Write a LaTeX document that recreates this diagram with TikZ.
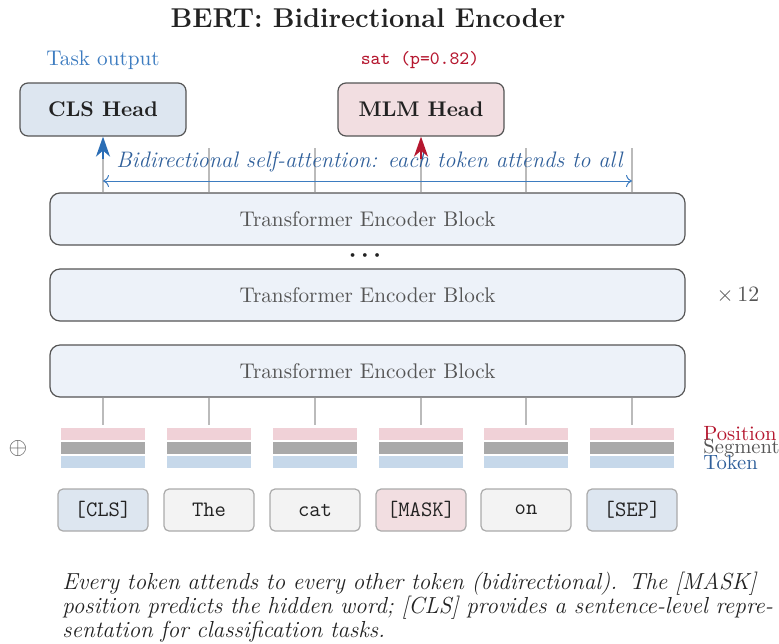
\documentclass[tikz,border=0pt]{standalone}
\usetikzlibrary{arrows.meta}
\definecolor{hdblue}{HTML}{DDE6F0}
\definecolor{hdpink}{HTML}{F2DEE1}
\definecolor{encfill}{HTML}{EDF2F9}
\definecolor{bord}{HTML}{555555}
\definecolor{tokbord}{HTML}{AAAAAA}
\definecolor{tokgray}{HTML}{F3F3F3}
\definecolor{barpink}{HTML}{F0D1D7}
\definecolor{bargray}{HTML}{A9A9A9}
\definecolor{barblue}{HTML}{C6D8EA}
\definecolor{lgray}{HTML}{BBBBBB}
\definecolor{tblue}{HTML}{3D7CC0}
\definecolor{dblue}{HTML}{2F5F9A}
\definecolor{ablue}{HTML}{2A6DB5}
\definecolor{tred}{HTML}{B5172F}
\definecolor{txt}{HTML}{222222}
\definecolor{gtxt}{HTML}{555555}
\tikzset{
  headbox/.style={draw=bord, line width=0.6pt, rounded corners=4pt, minimum width=83pt, minimum height=26.5pt, font=\fontsize{10.6}{12}\selectfont\bfseries, text=txt},
  encbox/.style={draw=bord, line width=0.6pt, rounded corners=5pt, fill=encfill, minimum width=317.5pt, minimum height=26pt, text=gtxt, font=\fontsize{10.6}{12}\selectfont},
  tokbox/.style={draw=tokbord, line width=0.6pt, rounded corners=2.5pt, minimum width=45pt, minimum height=21pt, font=\fontsize{11}{12}\selectfont\ttfamily, text=txt},
  bar/.style={minimum width=42pt, minimum height=6pt, inner sep=0pt},
  gline/.style={draw=lgray, line width=0.6pt},
  lbl/.style={anchor=west, inner sep=0pt, font=\fontsize{10.3}{12}\selectfont}
}
\begin{document}
\begin{tikzpicture}[x=0.5pt,y=-0.5pt]
\useasboundingbox (0,0) rectangle (779,643);
% title
\node[font=\fontsize{13.6}{16}\selectfont\bfseries, text=txt] (title) at (368,18) {BERT: Bidirectional Encoder};
% heads
\node[headbox, fill=hdblue] (cls) at (103,109.5) {CLS Head};
\node[headbox, fill=hdpink] (mlm) at (421,109.5) {MLM Head};
\node[text=tblue, font=\fontsize{10.6}{12}\selectfont] (taskout) at (103,60) {Task output};
\node[text=tred, font=\fontsize{9.4}{11}\selectfont\ttfamily] (satout) at (420,60) {sat (p=0.82)};
% encoder blocks
\node[encbox] (enc3) at (367.5,219) {Transformer Encoder Block};
\node[encbox] (enc2) at (367.5,295) {Transformer Encoder Block};
\node[encbox] (enc1) at (367.5,371) {Transformer Encoder Block};
\node[text=txt, font=\large\boldmath] (dots) at (365,256) {$\cdots$};
\node[text=gtxt, font=\fontsize{10.8}{12}\selectfont] (times) at (738,295) {$\times\,12$};
% columns
\foreach \i/\x/\t/\f in {1/103/{[CLS]}/hdblue, 2/209/{The}/tokgray, 3/315/{cat}/tokgray, 4/421/{[MASK]}/hdpink, 5/526/{on}/tokgray, 6/632/{[SEP]}/hdblue}{
  \node[bar, fill=barpink] (p\i) at (\x,434) {};
  \node[bar, fill=bargray] (s\i) at (\x,448) {};
  \node[bar, fill=barblue] (t\i) at (\x,462) {};
  \node[tokbox, fill=\f] (k\i) at (\x,510) {\t};
  \coordinate (top\i) at (\x,148);
  \draw[gline] (p\i.north |- enc1.south) -- ([yshift=1.5pt]p\i.north);
  \draw[gline] (top\i |- enc3.north) -- (top\i);
}
\node[text=gtxt, font=\large] (oplus) at (18,448) {$\oplus$};
\node[lbl, text=tred] (lpos) at (703,434) {Position};
\node[lbl, text=gtxt] (lseg) at (703,448) {Segment};
\node[lbl, text=dblue] (ltok) at (703,462) {Token};
% attention
\coordinate (a1) at (103,181);
\coordinate (a6) at (632,181);
\draw[draw=tblue, line width=0.5pt, {To[length=3pt,width=6pt]}-{To[length=3pt,width=6pt]}] (a1) -- (a6);
\node[text=dblue, font=\fontsize{11.2}{12}\selectfont\itshape] (attn) at (369.5,162) {Bidirectional self-attention: each token attends to all};
% head arrows
\coordinate (ca) at (103,159);
\coordinate (ma) at (421,159);
\draw[draw=ablue, fill=ablue, line width=1pt, -{Stealth[length=10pt,width=7pt,inset=3pt]}] (ca) -- (cls.south);
\draw[draw=tred, fill=tred, line width=1pt, -{Stealth[length=10pt,width=7pt,inset=3pt]}] (ma) -- (mlm.south);
% caption
\node[anchor=north west, inner sep=0pt, text width=356pt, align=left, font=\fontsize{11.6}{12}\selectfont\itshape, text=txt] (cap) at (62,572)
{Every token attends to every other token (bidirectional). The [MASK] position predicts the hidden word; [CLS] provides a sentence-level representation for classification tasks.};
\end{tikzpicture}
\end{document}
